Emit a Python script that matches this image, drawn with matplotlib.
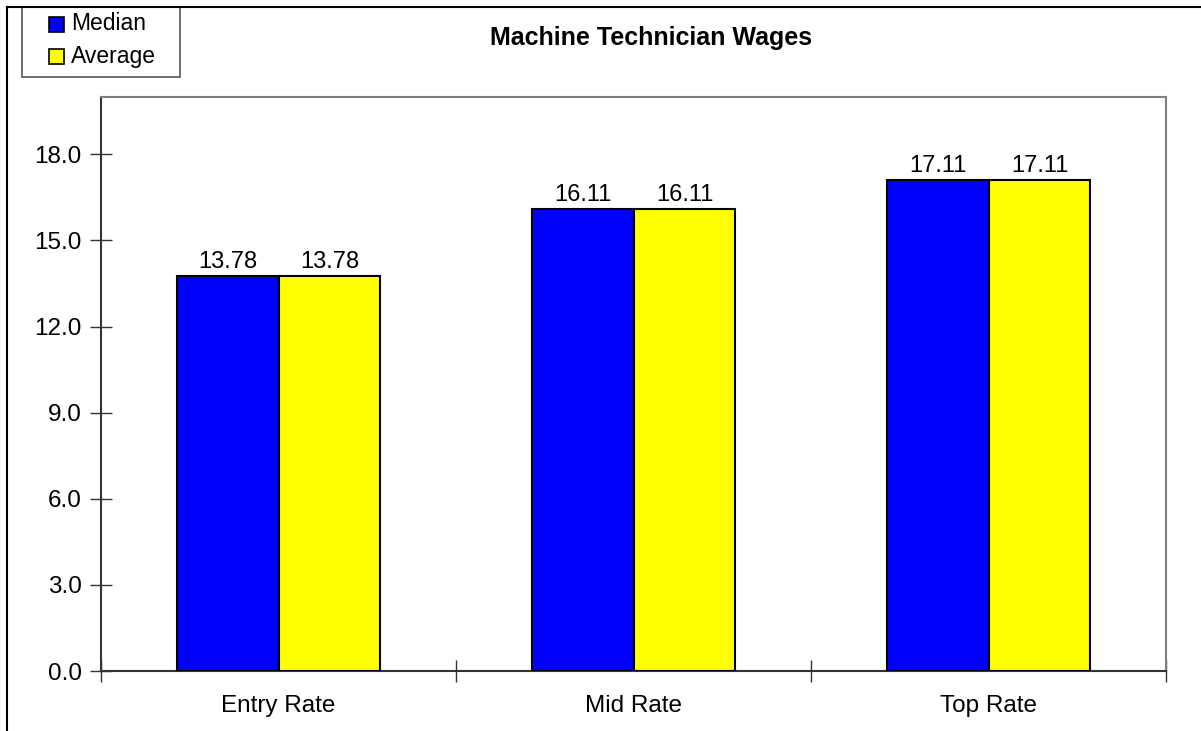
import matplotlib
matplotlib.use("Agg")
import matplotlib.pyplot as plt
import matplotlib.patches as mpatches
from matplotlib.lines import Line2D
import numpy as np

categories = ["Entry Rate", "Mid Rate", "Top Rate"]
median = [13.78, 16.11, 17.11]
average = [13.78, 16.11, 17.11]
yticks = [0, 3, 6, 9, 12, 15, 18]

plt.rcParams['font.family'] = ['Liberation Sans', 'DejaVu Sans']

W, H = 1201, 731
fig = plt.figure(figsize=(W / 100, H / 100), dpi=100)

# plot area in pixel coords
left, right, top, bottom = 101, 1166, 97, 671
ax = fig.add_axes([left / W, 1 - bottom / H, (right - left) / W, (bottom - top) / H])

x = np.arange(len(categories))
bw = 0.287
ax.bar(x - bw / 2, median, bw, color='#0000FF', edgecolor='black', linewidth=1.5, label='Median', zorder=3)
ax.bar(x + bw / 2, average, bw, color='#FFFF00', edgecolor='black', linewidth=1.5, label='Average', zorder=3)

for xi, m, a in zip(x, median, average):
    ax.text(xi - bw / 2, m + 0.1, f"{m:.2f}", ha='center', va='bottom', fontsize=17)
    ax.text(xi + bw / 2, a + 0.1, f"{a:.2f}", ha='center', va='bottom', fontsize=17)

ax.set_xlim(-0.5, len(categories) - 0.5)
ax.set_ylim(0, 20)
ax.set_yticks(yticks)
ax.set_yticklabels([f"{v:.1f}" for v in yticks], fontsize=17.5)
ax.set_xticks([-0.5, 0.5, 1.5, 2.5])
ax.set_xticklabels([])
ax.set_xticks(x, minor=True)
ax.set_xticklabels(categories, minor=True, fontsize=17.5)
ax.tick_params(axis='x', which='minor', length=0, pad=17)
ax.tick_params(axis='x', which='major', direction='inout', length=16, width=1, color='#333333')
ax.tick_params(axis='y', direction='inout', length=16, width=1, color='#333333', pad=6)

for s in ['top', 'right']:
    ax.spines[s].set_color('#808080')
    ax.spines[s].set_linewidth(1.5)
for s in ['left', 'bottom']:
    ax.spines[s].set_color('#333333')
    ax.spines[s].set_linewidth(1.5)

fig.text(651 / W, 1 - 38 / H, "Machine Technician Wages", ha='center', va='center',
         fontsize=18, fontweight='bold')

# outer chart border (top and left only visible)
fig.add_artist(Line2D([7 / W, 1], [1 - 7 / H, 1 - 7 / H], color='black', linewidth=1.5, transform=fig.transFigure))
fig.add_artist(Line2D([7 / W, 7 / W], [0, 1 - 7 / H], color='black', linewidth=1.5, transform=fig.transFigure))

# legend box
fig.add_artist(mpatches.Rectangle((22 / W, 1 - 77 / H), 158 / W, 70 / H, transform=fig.transFigure,
                                  facecolor='white', edgecolor='#555555', linewidth=1.2))
for i, (lab, col) in enumerate([("Median", '#0000FF'), ("Average", '#FFFF00')]):
    yc = 24 + i * 32
    fig.add_artist(mpatches.Rectangle((49 / W, 1 - (yc + 7.5) / H), 15 / W, 15 / H, transform=fig.transFigure,
                                      facecolor=col, edgecolor='black', linewidth=1.2))
    fig.text(71 / W, 1 - yc / H, lab, ha='left', va='center', fontsize=16.5)

fig.savefig("out.png", dpi=100)
